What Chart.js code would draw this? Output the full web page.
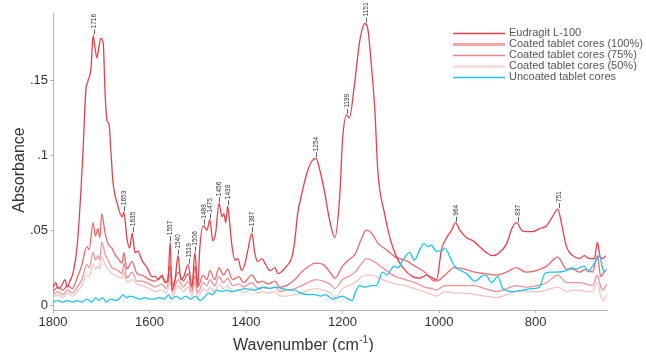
<!DOCTYPE html>
<html>
<head>
<meta charset="utf-8">
<script src="https://cdn.jsdelivr.net/npm/chart.js@4.4.0/dist/chart.umd.min.js"></script>
<style>
  html, body { margin: 0; padding: 0; background: #fff; }
  #wrap { width: 646px; height: 352px; }
</style>
</head>
<body>
<div id="wrap"><canvas id="grafico" width="646" height="352"></canvas></div>
<script>
// Eixos
const ticksX = [1800, 1600, 1400, 1200, 1000, 800];
const ticksY = [0, 0.05, 0.1, 0.15];

// Eudragit L-100
const eudragitWn = [1800, 1794, 1790, 1782, 1775, 1771, 1765, 1758, 1750, 1742, 1738, 1732, 1728, 1721, 1717, 1713, 1709, 1705, 1701, 1696, 1692, 1688, 1684, 1680, 1676, 1667, 1657, 1653, 1647, 1641, 1636, 1630, 1624, 1616, 1605, 1595, 1588, 1582, 1574, 1568, 1562, 1557, 1554, 1547, 1541, 1535, 1529, 1520, 1512, 1506, 1500, 1496, 1489, 1481, 1475, 1469, 1463, 1456, 1450, 1446, 1442, 1438, 1434, 1429, 1423, 1417, 1409, 1402, 1396, 1388, 1382, 1376, 1367, 1361, 1356, 1350, 1340, 1334, 1324, 1316, 1305, 1299, 1293, 1284, 1274, 1264, 1255, 1247, 1237, 1227, 1216, 1206, 1200, 1192, 1186, 1175, 1165, 1154, 1148, 1140, 1133, 1127, 1113, 1102, 1088, 1075, 1055, 1040, 1026, 1013, 1005, 995, 984, 974, 966, 957, 943, 930, 916, 902, 889, 875, 860, 848, 839, 829, 818, 806, 792, 777, 765, 754, 746, 736, 723, 709, 699, 688, 678, 672, 666, 661, 655];
const eudragitAbs = [0.012, 0.015, 0.011, 0.013, 0.017, 0.012, 0.016, 0.022, 0.039, 0.077, 0.101, 0.143, 0.149, 0.159, 0.180, 0.172, 0.165, 0.172, 0.178, 0.175, 0.141, 0.123, 0.121, 0.103, 0.083, 0.068, 0.059, 0.062, 0.045, 0.038, 0.048, 0.035, 0.036, 0.030, 0.025, 0.019, 0.019, 0.017, 0.020, 0.015, 0.016, 0.042, 0.010, 0.017, 0.033, 0.017, 0.019, 0.027, 0.012, 0.035, 0.012, 0.037, 0.053, 0.050, 0.057, 0.043, 0.048, 0.068, 0.059, 0.061, 0.055, 0.066, 0.055, 0.039, 0.030, 0.031, 0.023, 0.028, 0.037, 0.048, 0.035, 0.029, 0.031, 0.028, 0.025, 0.023, 0.025, 0.021, 0.023, 0.026, 0.032, 0.043, 0.061, 0.075, 0.088, 0.096, 0.098, 0.090, 0.075, 0.057, 0.045, 0.072, 0.110, 0.127, 0.125, 0.148, 0.175, 0.188, 0.185, 0.159, 0.130, 0.090, 0.061, 0.045, 0.032, 0.025, 0.019, 0.018, 0.020, 0.018, 0.017, 0.037, 0.045, 0.050, 0.055, 0.050, 0.045, 0.043, 0.039, 0.035, 0.033, 0.035, 0.041, 0.052, 0.055, 0.050, 0.049, 0.049, 0.051, 0.053, 0.059, 0.064, 0.054, 0.039, 0.033, 0.031, 0.033, 0.031, 0.031, 0.042, 0.032, 0.031, 0.033];

// Núcleos revestidos (100%, 75%, 50%) - mesmo eixo de número de onda
const revestidoWn = [1800, 1790, 1780, 1770, 1760, 1750, 1740, 1730, 1725, 1717, 1712, 1707, 1703, 1699, 1692, 1686, 1678, 1672, 1665, 1657, 1653, 1647, 1636, 1626, 1616, 1600, 1588, 1575, 1565, 1557, 1552, 1541, 1530, 1520, 1512, 1506, 1500, 1489, 1481, 1475, 1465, 1456, 1447, 1438, 1428, 1415, 1405, 1388, 1375, 1367, 1355, 1340, 1330, 1316, 1299, 1278, 1255, 1240, 1226, 1216, 1200, 1188, 1174, 1160, 1151, 1140, 1126, 1109, 1090, 1070, 1050, 1030, 1015, 1005, 988, 968, 947, 926, 905, 881, 860, 840, 820, 798, 777, 754, 736, 723, 709, 695, 682, 672, 665, 660, 653];
const revestido100 = [0.009, 0.012, 0.010, 0.013, 0.011, 0.018, 0.027, 0.039, 0.037, 0.055, 0.046, 0.051, 0.045, 0.061, 0.048, 0.041, 0.038, 0.034, 0.031, 0.028, 0.035, 0.024, 0.029, 0.021, 0.020, 0.017, 0.016, 0.019, 0.015, 0.026, 0.013, 0.022, 0.016, 0.021, 0.012, 0.026, 0.012, 0.020, 0.017, 0.023, 0.017, 0.025, 0.020, 0.024, 0.017, 0.019, 0.015, 0.020, 0.015, 0.016, 0.014, 0.016, 0.012, 0.013, 0.017, 0.024, 0.028, 0.027, 0.022, 0.018, 0.026, 0.030, 0.034, 0.045, 0.050, 0.048, 0.041, 0.037, 0.032, 0.030, 0.026, 0.022, 0.017, 0.016, 0.020, 0.025, 0.024, 0.022, 0.021, 0.020, 0.022, 0.025, 0.022, 0.023, 0.026, 0.032, 0.024, 0.024, 0.022, 0.024, 0.022, 0.033, 0.019, 0.021, 0.024];
const revestido75 = [0.007, 0.009, 0.007, 0.010, 0.008, 0.012, 0.017, 0.027, 0.025, 0.035, 0.030, 0.033, 0.030, 0.042, 0.034, 0.030, 0.025, 0.024, 0.023, 0.021, 0.028, 0.018, 0.022, 0.016, 0.016, 0.014, 0.012, 0.014, 0.011, 0.021, 0.009, 0.017, 0.012, 0.016, 0.009, 0.020, 0.008, 0.015, 0.013, 0.017, 0.013, 0.019, 0.015, 0.018, 0.013, 0.014, 0.012, 0.015, 0.011, 0.012, 0.011, 0.012, 0.009, 0.010, 0.011, 0.014, 0.017, 0.016, 0.014, 0.011, 0.017, 0.019, 0.022, 0.028, 0.031, 0.030, 0.027, 0.023, 0.019, 0.017, 0.015, 0.012, 0.011, 0.010, 0.013, 0.013, 0.013, 0.013, 0.011, 0.009, 0.011, 0.013, 0.012, 0.013, 0.015, 0.020, 0.015, 0.015, 0.015, 0.014, 0.013, 0.020, 0.012, 0.010, 0.014];
const revestido50 = [0.005, 0.007, 0.005, 0.008, 0.006, 0.009, 0.013, 0.020, 0.019, 0.027, 0.024, 0.026, 0.024, 0.032, 0.027, 0.024, 0.021, 0.020, 0.019, 0.018, 0.021, 0.015, 0.017, 0.014, 0.013, 0.011, 0.009, 0.010, 0.008, 0.016, 0.006, 0.013, 0.009, 0.012, 0.006, 0.015, 0.005, 0.011, 0.009, 0.012, 0.009, 0.014, 0.011, 0.013, 0.009, 0.010, 0.008, 0.011, 0.008, 0.009, 0.008, 0.009, 0.006, 0.006, 0.007, 0.009, 0.011, 0.010, 0.008, 0.005, 0.011, 0.013, 0.015, 0.019, 0.020, 0.020, 0.018, 0.016, 0.014, 0.013, 0.011, 0.009, 0.007, 0.006, 0.009, 0.008, 0.008, 0.007, 0.006, 0.005, 0.007, 0.009, 0.009, 0.009, 0.010, 0.012, 0.009, 0.010, 0.010, 0.009, 0.009, 0.015, 0.006, 0.003, 0.007];

// Núcleos não revestidos
const naoRevestidoWn = [1800, 1790, 1780, 1770, 1760, 1750, 1740, 1730, 1720, 1712, 1705, 1697, 1690, 1680, 1670, 1660, 1655, 1648, 1640, 1630, 1620, 1610, 1600, 1590, 1580, 1570, 1560, 1555, 1545, 1535, 1525, 1515, 1505, 1495, 1487, 1478, 1470, 1460, 1450, 1440, 1430, 1416, 1400, 1385, 1371, 1361, 1350, 1340, 1324, 1310, 1299, 1287, 1270, 1257, 1245, 1236, 1220, 1210, 1200, 1188, 1180, 1174, 1165, 1154, 1140, 1130, 1117, 1108, 1099, 1093, 1085, 1075, 1061, 1051, 1040, 1031, 1023, 1016, 1006, 995, 988, 976, 968, 955, 943, 926, 920, 913, 903, 892, 878, 868, 847, 826, 806, 792, 781, 770, 757, 736, 726, 716, 709, 699, 692, 682, 674, 668, 662, 658, 655];
const naoRevestidoAbs = [0.002, 0.003, 0.002, 0.003, 0.002, 0.003, 0.002, 0.004, 0.002, 0.005, 0.003, 0.005, 0.002, 0.004, 0.003, 0.005, 0.007, 0.005, 0.006, 0.005, 0.004, 0.005, 0.004, 0.004, 0.005, 0.004, 0.007, 0.004, 0.006, 0.004, 0.006, 0.004, 0.006, 0.003, 0.005, 0.008, 0.007, 0.010, 0.009, 0.010, 0.009, 0.010, 0.011, 0.010, 0.011, 0.012, 0.011, 0.012, 0.011, 0.010, 0.010, 0.008, 0.007, 0.007, 0.006, 0.007, 0.004, 0.005, 0.006, 0.004, 0.003, 0.008, 0.013, 0.012, 0.013, 0.013, 0.022, 0.020, 0.024, 0.026, 0.025, 0.030, 0.035, 0.030, 0.037, 0.041, 0.039, 0.040, 0.036, 0.036, 0.038, 0.031, 0.026, 0.023, 0.021, 0.016, 0.017, 0.019, 0.020, 0.015, 0.019, 0.011, 0.009, 0.010, 0.011, 0.012, 0.021, 0.022, 0.022, 0.023, 0.025, 0.024, 0.025, 0.026, 0.022, 0.026, 0.030, 0.033, 0.026, 0.022, 0.023];

// Picos marcados no espectro do Eudragit
const picosPosicao = [1716, 1653, 1635, 1557, 1540, 1519, 1506, 1488, 1475, 1456, 1438, 1387, 1254, 1191, 1151, 964, 837, 751];
const picosRotulo = ['1716', '1653', '1635', '1557', '1540', '1519', '1506', '1488', '1475', '1456', '1438', '1387', '1254', '1199', '1151', '964', '837', '751'];

const nomesSeries = ['Eudragit L-100', 'Coated tablet cores (100%)', 'Coated tablet cores (75%)', 'Coated tablet cores (50%)', 'Uncoated tablet cores'];
const coresSeries = ['#e8404a', '#ea6a6d', '#f09496', '#f6c4c4', '#1fc3f0'];
const coresLegenda = ['#e8404a', '#f5a5a6', '#f08486', '#fbdcdc', '#1fc3f0'];
const largurasLegenda = [1.3, 3, 1.5, 3, 1.5];

const FONTE = '"Liberation Sans", Arial, sans-serif';

function montarPontos(wn, abs) {
  return wn.map((v, i) => ({ x: v, y: abs[i] }));
}

// altura do pico no espectro do Eudragit (máximo numa janela pequena)
function alturaPico(wn) {
  let melhor = -1;
  eudragitWn.forEach((w, i) => {
    if (Math.abs(w - wn) <= 4 && eudragitAbs[i] > melhor) melhor = eudragitAbs[i];
  });
  return melhor;
}

const pluginExtras = {
  id: 'extras',
  afterDatasetsDraw(chart) {
    const { ctx, scales: { x, y } } = chart;
    // rótulos dos picos
    picosPosicao.forEach((wn, i) => {
      const px = Math.round(x.getPixelForValue(wn)) + 0.5;
      const py = y.getPixelForValue(alturaPico(wn));
      ctx.save();
      ctx.strokeStyle = '#56607e';
      ctx.lineWidth = 1;
      ctx.beginPath();
      ctx.moveTo(px, py - 1);
      ctx.lineTo(px, py - 6);
      ctx.stroke();
      ctx.translate(px, py - 7);
      ctx.rotate(-Math.PI / 2);
      ctx.font = '6.5px ' + FONTE;
      ctx.fillStyle = '#333';
      ctx.textAlign = 'left';
      ctx.textBaseline = 'middle';
      ctx.fillText(picosRotulo[i], 0, 0);
      ctx.restore();
    });
  },
  afterDraw(chart) {
    const ctx = chart.ctx;
    ctx.save();
    // legenda
    ctx.font = '11px ' + FONTE;
    ctx.textBaseline = 'middle';
    ctx.textAlign = 'left';
    nomesSeries.forEach((nome, i) => {
      const ly = 33 + i * 11;
      ctx.strokeStyle = coresLegenda[i];
      ctx.lineWidth = largurasLegenda[i];
      ctx.beginPath();
      ctx.moveTo(453, ly + 0.5);
      ctx.lineTo(505, ly + 0.5);
      ctx.stroke();
      ctx.fillStyle = '#555';
      ctx.fillText(nome, 509, ly);
    });

    // título eixo x com sobrescrito
    ctx.fillStyle = '#333';
    ctx.textBaseline = 'alphabetic';
    ctx.font = '16px ' + FONTE;
    const parte1 = 'Wavenumber (cm';
    const w1 = ctx.measureText(parte1).width;
    ctx.font = '10px ' + FONTE;
    const w2 = ctx.measureText('-1').width;
    ctx.font = '16px ' + FONTE;
    const w3 = ctx.measureText(')').width;
    let xi = 303 - (w1 + w2 + w3) / 2;
    const base = 350;
    ctx.fillText(parte1, xi, base);
    ctx.font = '10px ' + FONTE;
    ctx.fillText('-1', xi + w1 + 0.5, base - 7);
    ctx.font = '16px ' + FONTE;
    ctx.fillText(')', xi + w1 + w2 + 1, base);

    // título eixo y
    ctx.translate(20, 170);
    ctx.rotate(-Math.PI / 2);
    ctx.textAlign = 'center';
    ctx.textBaseline = 'middle';
    ctx.fillText('Absorbance', 0, 0);
    ctx.restore();
  }
};

const series = [
  montarPontos(eudragitWn, eudragitAbs),
  montarPontos(revestidoWn, revestido100),
  montarPontos(revestidoWn, revestido75),
  montarPontos(revestidoWn, revestido50),
  montarPontos(naoRevestidoWn, naoRevestidoAbs)
];

// ordem de desenho: tons claros atrás, Eudragit por cima
const ordemDesenho = [1, 2, 3, 4, 0];

new Chart(document.getElementById('grafico'), {
  type: 'line',
  data: {
    datasets: series.map((d, i) => ({
      label: nomesSeries[i],
      data: d,
      borderColor: coresSeries[i],
      borderWidth: 1.3,
      pointRadius: 0,
      fill: false,
      cubicInterpolationMode: 'monotone',
      order: ordemDesenho[i]
    }))
  },
  options: {
    responsive: false,
    animation: false,
    layout: { padding: { top: 13, right: 39, left: 0, bottom: 0 } },
    plugins: { legend: { display: false }, tooltip: { enabled: false } },
    scales: {
      x: {
        type: 'linear',
        reverse: true,
        min: 652,
        max: 1800,
        afterBuildTicks: s => { s.ticks = ticksX.map(v => ({ value: v })); },
        afterFit: s => { s.height = 42; },
        grid: { drawOnChartArea: false, drawTicks: true, tickLength: 3, color: '#b4b4b4' },
        border: { color: '#b4b4b4' },
        ticks: {
          autoSkip: false, maxRotation: 0, padding: 2,
          color: '#333', font: { family: FONTE, size: 13 },
          callback: v => String(v)
        }
      },
      y: {
        min: -0.0033,
        max: 0.195,
        afterBuildTicks: s => { s.ticks = ticksY.map(v => ({ value: v })); },
        afterFit: s => { s.width = 53; },
        grid: { drawOnChartArea: false, drawTicks: true, tickLength: 3, color: '#b4b4b4' },
        border: { color: '#b4b4b4' },
        ticks: {
          padding: 2,
          color: '#333', font: { family: FONTE, size: 13 },
          callback: v => v === 0 ? '0' : String(+v.toFixed(2)).replace('0.', '.')
        }
      }
    }
  },
  plugins: [pluginExtras]
});
</script>
</body>
</html>
